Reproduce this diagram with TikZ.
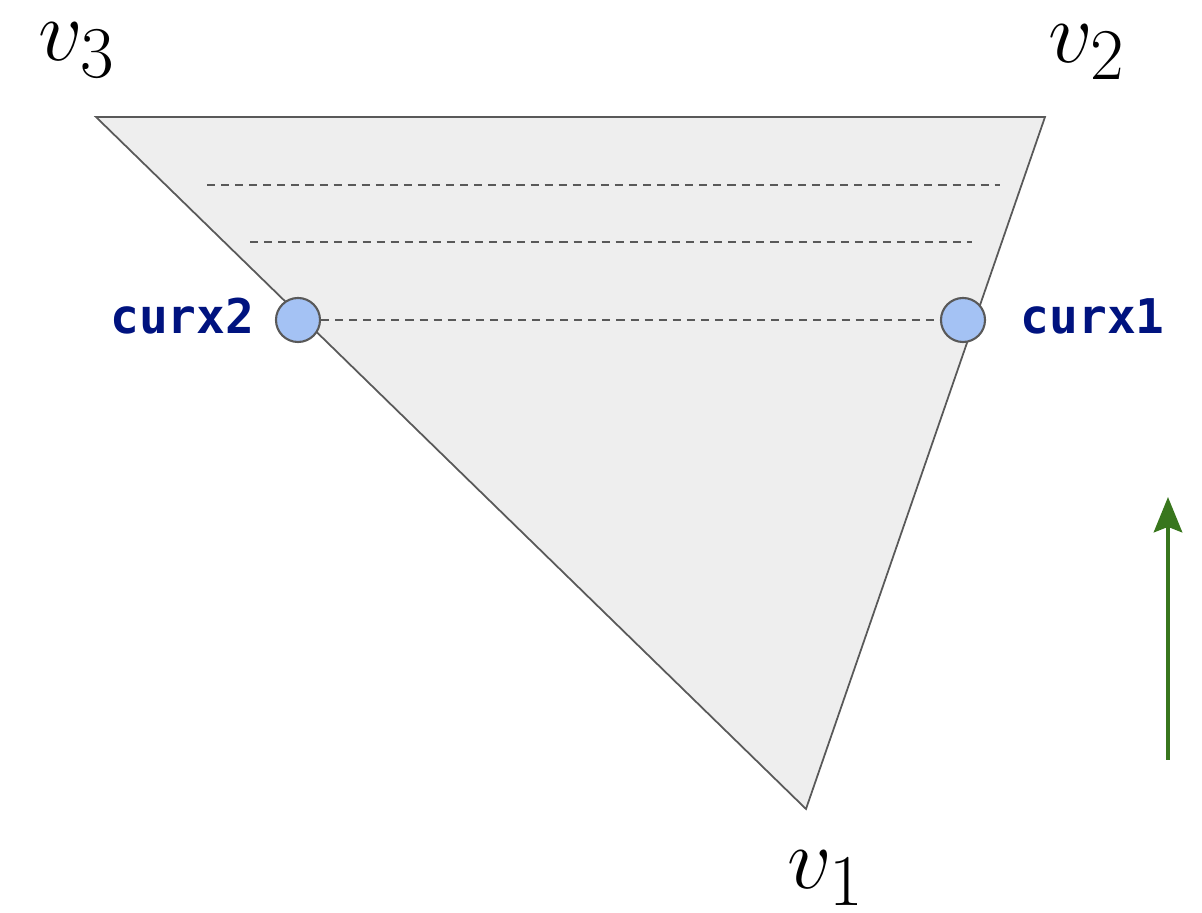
\documentclass[tikz,border=0pt]{standalone}
\usepackage{fontspec}
\newfontfamily\codefont{DejaVu Sans Mono}
\usetikzlibrary{arrows.meta}
\definecolor{trifill}{HTML}{EEEEEE}
\definecolor{edgegray}{HTML}{595959}
\definecolor{ptblue}{HTML}{A4C2F4}
\definecolor{labelblue}{HTML}{00137F}
\definecolor{upgreen}{HTML}{38761D}
\begin{document}
\begin{tikzpicture}[
    x=0.01cm, y=-0.01cm,
    tri/.style={draw=edgegray, line width=0.5pt, fill=trifill, line join=miter},
    vlabel/.style={font=\fontsize{32}{38}\selectfont, inner sep=0pt},
    xpoint/.style={circle, draw=edgegray, line width=0.6pt, fill=ptblue,
                   minimum size=0.44cm, inner sep=0pt},
    xlabel/.style={font=\codefont\bfseries\fontsize{13.6}{16}\selectfont, text=labelblue,
                   inner sep=0pt},
    scan/.style={draw=edgegray, dash pattern=on 2.3pt off 1.7pt, line width=0.5pt},
    uparrow/.style={-{Stealth[length=10pt, width=8pt, inset=1.5pt]}, line width=1.4pt, draw=upgreen}
]
\useasboundingbox (0,0) rectangle (1202,913);

%--------
% triangle and its corners
%--------
\coordinate (v1) at (806,809);
\coordinate (v2) at (1045,117);
\coordinate (v3) at (96,117);
\draw[tri] (v1) -- (v2) -- (v3) -- cycle;

\node[vlabel] (lv3) at (77,50)  {$v_3$};
\node[vlabel] (lv2) at (1087,52) {$v_2$};
\node[vlabel] (lv1) at (826,878) {$v_1$};

%--------
% scanlines
%--------
\coordinate (s1a) at (207,185);
\coordinate (s1b) at (1000,185);
\coordinate (s2a) at (250,242);
\coordinate (s2b) at (972,242);
\draw[scan] (s1a) -- (s1b);
\draw[scan] (s2a) -- (s2b);

% current scanline with its edge crossings
\node[xpoint] (cx2) at (298,320) {};
\node[xpoint] (cx1) at (963,320) {};
\draw[scan] (cx2) -- (cx1);

\node[xlabel, anchor=east] (lcx2) at (255,316) {curx2};
\node[xlabel, anchor=west] (lcx1) at (1020,316) {curx1};

%--------
% scan direction
%--------
\coordinate (ua) at (1168,760);
\coordinate (ub) at (1168,497);
\draw[uparrow] (ua) -- (ub);

\end{tikzpicture}
\end{document}
